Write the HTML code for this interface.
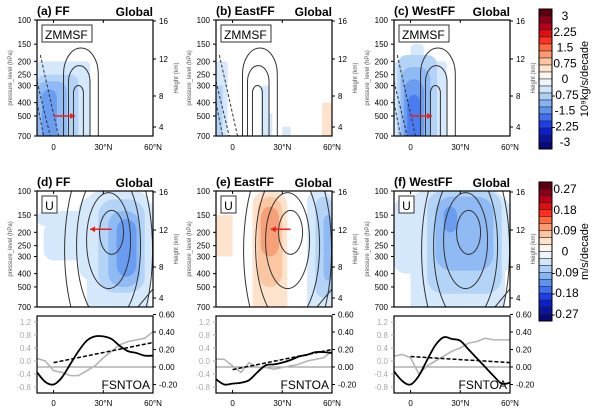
<!DOCTYPE html>
<html><head><meta charset="utf-8"><style>
body{margin:0;background:#fff;}
svg{display:block;font-family:"Liberation Sans",sans-serif;}
</style></head><body>
<svg id="s" width="600" height="413" viewBox="0 0 600 413"></svg>
<script>
// ---- data ----
const lineLats=[-10,-5,0,5,10,15,20,25,30,35,40,45,50,55,60];
const blackD=[-0.06,-0.17,-0.2,-0.12,0.03,0.18,0.3,0.35,0.35,0.32,0.24,0.18,0.16,0.13,0.13];
const grayD=[0.08,0.0,-0.3,-0.35,-0.45,-0.45,-0.3,-0.15,0.1,0.3,0.5,0.6,0.65,0.7,0.9];
const trendD=[0.05,0.28];
const blackE=[-0.14,-0.2,-0.19,-0.18,-0.15,-0.06,0.02,0.03,0.05,0.08,0.12,0.14,0.17,0.17,0.16];
const grayE=[0.06,0.05,-0.15,-0.35,-0.05,-0.2,-0.2,-0.25,-0.2,-0.15,-0.1,0.0,0.05,0.1,0.3];
const trendE=[-0.03,0.2];
const blackF=[-0.05,-0.16,-0.2,-0.1,0.08,0.25,0.34,0.32,0.3,0.2,0.1,0.0,-0.1,-0.19,-0.18];
const grayF=[0.15,0.2,0.1,-0.4,-0.15,0.0,0.15,0.3,0.4,0.55,0.6,0.7,0.65,0.65,0.65];
const trendF=[0.12,0.05];
const pTicks=[100,150,200,250,300,400,500,700];
const hTicks=[16,12,8,4];
const hY=[1,39,76,107];
const leftTicks=["1.2","0.8","0.4","0.0","-0.4","-0.8"];
const leftVals=[1.2,0.8,0.4,0,-0.4,-0.8];
const rightTicks=["0.60","0.40","0.20","0.00","-0.20"];
const rightVals=[0.6,0.4,0.2,0,-0.2];
const cb1Labels=["3","2.25","1.5","0.75","0","-0.75","-1.5","-2.25","-3"];
const cb2Labels=["0.27","0.18","0.09","0","-0.09","-0.18","-0.27"];

const S=document.getElementById('s');
const NS='http://www.w3.org/2000/svg';
function el(t,a,p){const e=document.createElementNS(NS,t);for(const k in a)e.setAttribute(k,a[k]);(p||S).appendChild(e);return e;}
function tx(x,y,s,size,anchor,fill,weight,p){const e=el('text',{x:x,y:y,'font-size':size,'text-anchor':anchor||'start',fill:fill||'#000','font-weight':weight||'normal'},p);e.textContent=s;return e;}

const colX=[37,216,394], W=116;
const rowY=[20,191], H=116;
function lx(x0,lat){return x0+(lat+10)/70*W;}
function py(y0,p){return y0+Math.log(p/100)/Math.log(7)*H;}

const B=['#d6e8fb','#b3d3f7','#8fbaf3','#6a9cf0','#4a7cf0','#2f5ae8'];
const O=['#fde3cc','#fbc7a2','#f5a078','#ee7a55'];

// shading boxes: [lat0, lat1, pTop, pBot, color, cornerRadiusPx]
const shadeA=[[-10,22,200,700,B[0],4],[-10,15,250,700,B[1],8],[-10,8,280,700,B[2],10],[-7,2,320,700,B[3],8]];
const shadeB=[[-10,-3,200,700,B[0],2],[-10,-6,300,700,B[1],2],[17,22,300,700,B[0],2],[20,24,480,700,B[0],2],[30,35,600,700,B[0],1],[54,60,400,700,O[0],2]];
const shadeC=[[-10,22,200,700,B[0],4],[0,8,150,700,B[0],4],[-8,16,180,700,B[1],10],[-6,12,220,700,B[2],12],[-4,8,270,700,B[3],12],[-2,6,350,700,B[4],10]];
const shadeD=[[-10,60,140,180,B[0],8],[-6,60,170,320,B[0],10],[15,60,110,450,B[0],14],[20,58,100,700,B[0],14],[27,55,115,550,B[1],16],[33,52,140,500,B[2],14],[38,50,160,420,B[3],12]];
const shadeE=[[-10,0,150,300,O[0],2],[12,33,100,700,O[0],14],[15,30,110,500,O[1],14],[17,28,130,300,O[2],12],[45,60,100,700,B[0],10],[50,60,110,600,B[1],10],[55,60,150,450,B[2],6]];
const shadeF=[[-10,60,110,400,B[0],12],[0,57,100,700,B[0],14],[10,55,100,560,B[1],16],[15,50,110,380,B[2],16],[20,28,130,200,B[3],8],[30,42,180,260,B[2],8]];

function panel(ci,ri,title,shade,kind,name){
  const x0=colX[ci], y0=rowY[ri];
  const g=el('g',{},S);
  
  
  const cid='c'+ci+ri;
  const cp=el('clipPath',{id:cid},g);el('rect',{x:x0,y:y0,width:W,height:H},cp);
  const cg=el('g',{'clip-path':'url(#'+cid+')'},g);
  
  
  shade.forEach(b=>{const xa=lx(x0,b[0]),xb=lx(x0,b[1]),ya=py(y0,b[2]),yb=py(y0,b[3]);
    el('rect',{x:xa,y:ya,width:xb-xa,height:(yb-ya)+(b[3]>=700?b[5]:0),rx:b[5],fill:b[4]},cg);});
  if(kind==='msf'){
    [[6,27,160],[9,22,215],[12,18,300]].forEach(a=>{
      const xa=lx(x0,a[0]),xb=lx(x0,a[1]),yt=py(y0,a[2]),yb=y0+H;
      const r=(xb-xa)/2, ry=r*1.5;
      el('path',{d:`M${xa},${yb} L${xa},${yt+ry} A${r},${ry} 0 0 1 ${xb},${yt+ry} L${xb},${yb}`,fill:'none',stroke:'#333','stroke-width':1},cg);
    });
    [[-8,180,3],[-10,280,-2],[-10,400,-6]].forEach(d=>{
      el('line',{x1:lx(x0,d[0]),y1:py(y0,d[1]),x2:lx(x0,d[2]),y2:y0+H,stroke:'#333','stroke-dasharray':'3,2','stroke-width':1},cg);
    });
    tx(x0+8,y0+6+13,'ZMMSF',12,'start','#000','normal',g);
    el('rect',{x:x0+5,y:y0+5,width:50,height:17,fill:'none',stroke:'#333'},g);
  } else {
    const cx=lx(x0,35);
    [[12,22,200],[22,48,230],[32,78,250],[44,110,270]].forEach(r=>{
      el('ellipse',{cx:cx+(r[0]>20?-3:0),cy:py(y0,r[2]),rx:r[0],ry:r[1],fill:'none',stroke:'#333','stroke-width':1},cg);
    });
    el('line',{x1:x0+W-15,y1:y0+H,x2:x0+W,y2:y0+H-18,stroke:'#333'},cg);
    el('rect',{x:x0+5,y:y0+5,width:15,height:17,fill:'#fff',stroke:'#333'},g);
    tx(x0+12.5,y0+19,'U',12,'middle','#000','normal',g);
  }
  el('rect',{x:x0,y:y0,width:W,height:H,fill:'none',stroke:'#000','stroke-width':1.2},g);
  tx(x0,y0-5,title,12,'start','#000','bold',g);
  tx(x0+W,y0-4,'Global',12,'end','#000','bold',g);
  pTicks.forEach(p=>{const y=py(y0,p);el('line',{x1:x0-3,y1:y,x2:x0,y2:y,stroke:'#000'},g);tx(x0-6,y+3,String(p),8,'end','#000','normal',g);});
  hTicks.forEach((h,i)=>{const y=y0+hY[i];el('line',{x1:x0+W,y1:y,x2:x0+W+3,y2:y,stroke:'#000'},g);tx(x0+W+6,y+3,String(h),8,'start','#000','normal',g);});
  [0,30,60].forEach(l=>{el('line',{x1:lx(x0,l),y1:y0,x2:lx(x0,l),y2:y0+3,stroke:'#000'},g);});
  const t1=tx(0,0,'pressure_level (hPa)',6,'middle','#555','normal',g);t1.setAttribute('transform',`translate(${x0-25},${y0+H/2}) rotate(-90)`);
  const t2=tx(0,0,'Height (km)',6,'middle','#555','normal',g);t2.setAttribute('transform',`translate(${x0+W+25},${y0+H/2}) rotate(-90)`);
  if(ri===0){[0,30,60].forEach(l=>tx(lx(x0,l),y0+H+14,l===0?'0':l+'°N',8,'middle','#000','normal',g));}
}
function arrow(x0,y0,l1,l2,p){const y=py(y0,p);const xa=lx(x0,l1),xb=lx(x0,l2);
  const a=el('g',{},S);
  el('line',{x1:xa,y1:y,x2:xb,y2:y,stroke:'#e8221c','stroke-width':1.5},a);
  const d=xb>xa?1:-1;el('path',{d:`M${xb},${y} L${xb-5*d},${y-3} L${xb-5*d},${y+3}Z`,fill:'#e8221c'},a);}

panel(0,0,'(a) FF',shadeA,'msf','panel-a');
panel(1,0,'(b) EastFF',shadeB,'msf','panel-b');
panel(2,0,'(c) WestFF',shadeC,'msf','panel-c');
panel(0,1,'(d) FF',shadeD,'u','panel-d');
panel(1,1,'(e) EastFF',shadeE,'u','panel-e');
panel(2,1,'(f) WestFF',shadeF,'u','panel-f');
arrow(colX[0],rowY[0],0,13,500);
arrow(colX[2],rowY[0],0,13,500);
arrow(colX[0],rowY[1],35,22,190);
arrow(colX[1],rowY[1],35,23,190);

// bottom line panels
const ly0=316, lyH=77;
function yR(v){return 367-v*87.5;}
function yL(v){return 361-v*32.5;}
function smooth(pts){let d='M'+pts[0][0]+','+pts[0][1];
  for(let i=0;i<pts.length-1;i++){const p0=pts[Math.max(0,i-1)],p1=pts[i],p2=pts[i+1],p3=pts[Math.min(pts.length-1,i+2)];
    d+=` C${p1[0]+(p2[0]-p0[0])/6},${p1[1]+(p2[1]-p0[1])/6} ${p2[0]-(p3[0]-p1[0])/6},${p2[1]-(p3[1]-p1[1])/6} ${p2[0]},${p2[1]}`;}
  return d;}
function linePanel(ci,black,gray,trend,name){
  const x0=colX[ci];
  const g=el('g',{},S);
  
  
  el('line',{x1:x0,y1:yR(0),x2:x0+W,y2:yR(0),stroke:'#888','stroke-width':1},g);
  el('polyline',{points:lineLats.map((l,i)=>lx(x0,l)+','+yL(gray[i])).join(' '),fill:'none',stroke:'#b5b5b5','stroke-width':1.6},g);
  el('path',{d:smooth(lineLats.map((l,i)=>[lx(x0,l),yR(black[i])])),fill:'none',stroke:'#000','stroke-width':1.8},g);
  el('line',{x1:lx(x0,0),y1:yR(trend[0]),x2:lx(x0,60),y2:yR(trend[1]),stroke:'#000','stroke-width':1.5,'stroke-dasharray':'4,2'},g);
  el('rect',{x:x0,y:ly0,width:W,height:lyH,fill:'none',stroke:'#000','stroke-width':1.2},g);
  leftVals.forEach((v,i)=>{el('line',{x1:x0-3,y1:yL(v),x2:x0,y2:yL(v),stroke:'#aaa'},g);tx(x0-6,yL(v)+3,leftTicks[i],8,'end','#aaa','normal',g);});
  rightVals.forEach((v,i)=>{el('line',{x1:x0+W,y1:yR(v),x2:x0+W+3,y2:yR(v),stroke:'#000'},g);tx(x0+W+6,yR(v)+3,rightTicks[i],8,'start','#000','normal',g);});
  [0,30,60].forEach(l=>{el('line',{x1:lx(x0,l),y1:ly0+lyH,x2:lx(x0,l),y2:ly0+lyH-3,stroke:'#000'},g);tx(lx(x0,l),ly0+lyH+13,l===0?'0':l+'°N',8,'middle','#000','normal',g);});
  tx(x0+W-3,ly0+lyH-4,'FSNTOA',12,'end','#000','normal',g);
}
linePanel(0,blackD,grayD,trendD,'line-panel-d');
linePanel(1,blackE,grayE,trendE,'line-panel-e');
linePanel(2,blackF,grayF,trendF,'line-panel-f');

// colorbars
const cbCols=['#5a0010','#8a0018','#b80018','#e01010','#ff3020','#ff6a40','#ff9a70','#ffc4a0','#ffe2cc','#fbf5ee','#eef5fd','#d2e6fb','#aecff7','#86b4f2','#5f94ee','#3e6ff0','#1e3ee8','#0a1ecc','#0a12a0','#08087a'];
function colorbar(y0,h,labels,unit,name){
  const g=el('g',{},S);
  
  
  const n=cbCols.length, sh=h/n;
  cbCols.forEach((c,i)=>el('rect',{x:539,y:y0+i*sh,width:13,height:sh,fill:c,stroke:'#222','stroke-width':0.5},g));
  el('rect',{x:539,y:y0,width:13,height:h,fill:'none',stroke:'#000'},g);
  const top=y0+sh*1, bot=y0+h-sh*1;
  labels.forEach((s,i)=>tx(565,top+(bot-top)*i/(labels.length-1)+4,s,12,'middle','#000','normal',g));
  const u=tx(0,0,unit,11,'middle','#000','normal',g);u.setAttribute('transform',`translate(588,${y0+h/2}) rotate(-90)`);
}
colorbar(9,140,cb1Labels,'10⁹kg/s/decade','colorbar-msf');
colorbar(182,139,cb2Labels,'m/s/decade','colorbar-u');
</script>
</body></html>
